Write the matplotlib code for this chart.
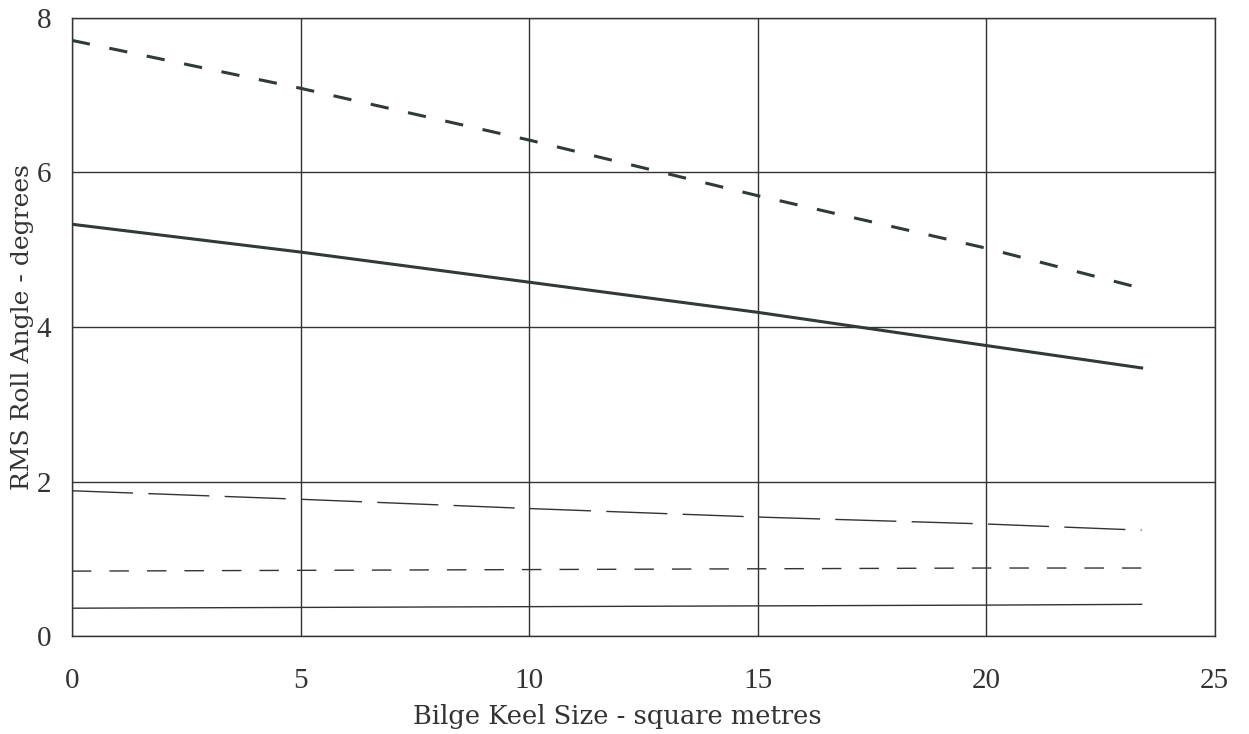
import matplotlib
matplotlib.use('Agg')
import matplotlib.pyplot as plt

# figure style
plt.rcParams['font.family'] = 'Liberation Serif'

keel_size = [0, 5, 10, 15, 20, 23.4]
roll_top = [7.71, 7.09, 6.42, 5.70, 5.02, 4.50]
roll_mid = [5.33, 4.97, 4.58, 4.19, 3.76, 3.47]
roll_3 = [1.88, 1.77, 1.65, 1.54, 1.45, 1.37]
roll_4 = [0.84, 0.85, 0.86, 0.87, 0.88, 0.88]
roll_5 = [0.36, 0.37, 0.38, 0.39, 0.40, 0.41]

xticks = [0, 5, 10, 15, 20, 25]
yticks = [0, 2, 4, 6, 8]

fig = plt.figure(figsize=(12.49, 7.34), dpi=100)
ax = fig.add_axes([0.0576, 0.1335, 0.915, 0.842])

ink = '#2f3a39'
ax.plot(keel_size, roll_top, color=ink, lw=2.2, dashes=(6, 6.5))
ax.plot(keel_size, roll_mid, color=ink, lw=2.2)
ax.plot(keel_size, roll_3, color='#333333', lw=1.0, dashes=(44, 11))
ax.plot(keel_size, roll_4, color='#333333', lw=1.0, dashes=(14, 13))
ax.plot(keel_size, roll_5, color='#333333', lw=1.0)

ax.set_xlim(0, 25)
ax.set_ylim(0, 8)
ax.set_xticks(xticks)
ax.set_yticks(yticks)
ax.tick_params(length=0, labelsize=21, colors='#333333')
ax.tick_params(axis='x', pad=23)
ax.tick_params(axis='y', pad=15)
ax.grid(True, color='#333333', lw=1.0)

for spine in ('top', 'right', 'bottom', 'left'):
    ax.spines[spine].set_color('#333333')
    ax.spines[spine].set_linewidth(1.0)

ax.set_xlabel('Bilge Keel Size - square metres', fontsize=18.5, color='#333333',
              family='DejaVu Serif')
ax.xaxis.set_label_coords(0.477, -0.11)
ax.set_ylabel('RMS Roll Angle - degrees', fontsize=18, color='#333333',
              family='DejaVu Serif')
ax.yaxis.set_label_coords(-0.033, 0.5)

fig.savefig('out.png', dpi=100)
